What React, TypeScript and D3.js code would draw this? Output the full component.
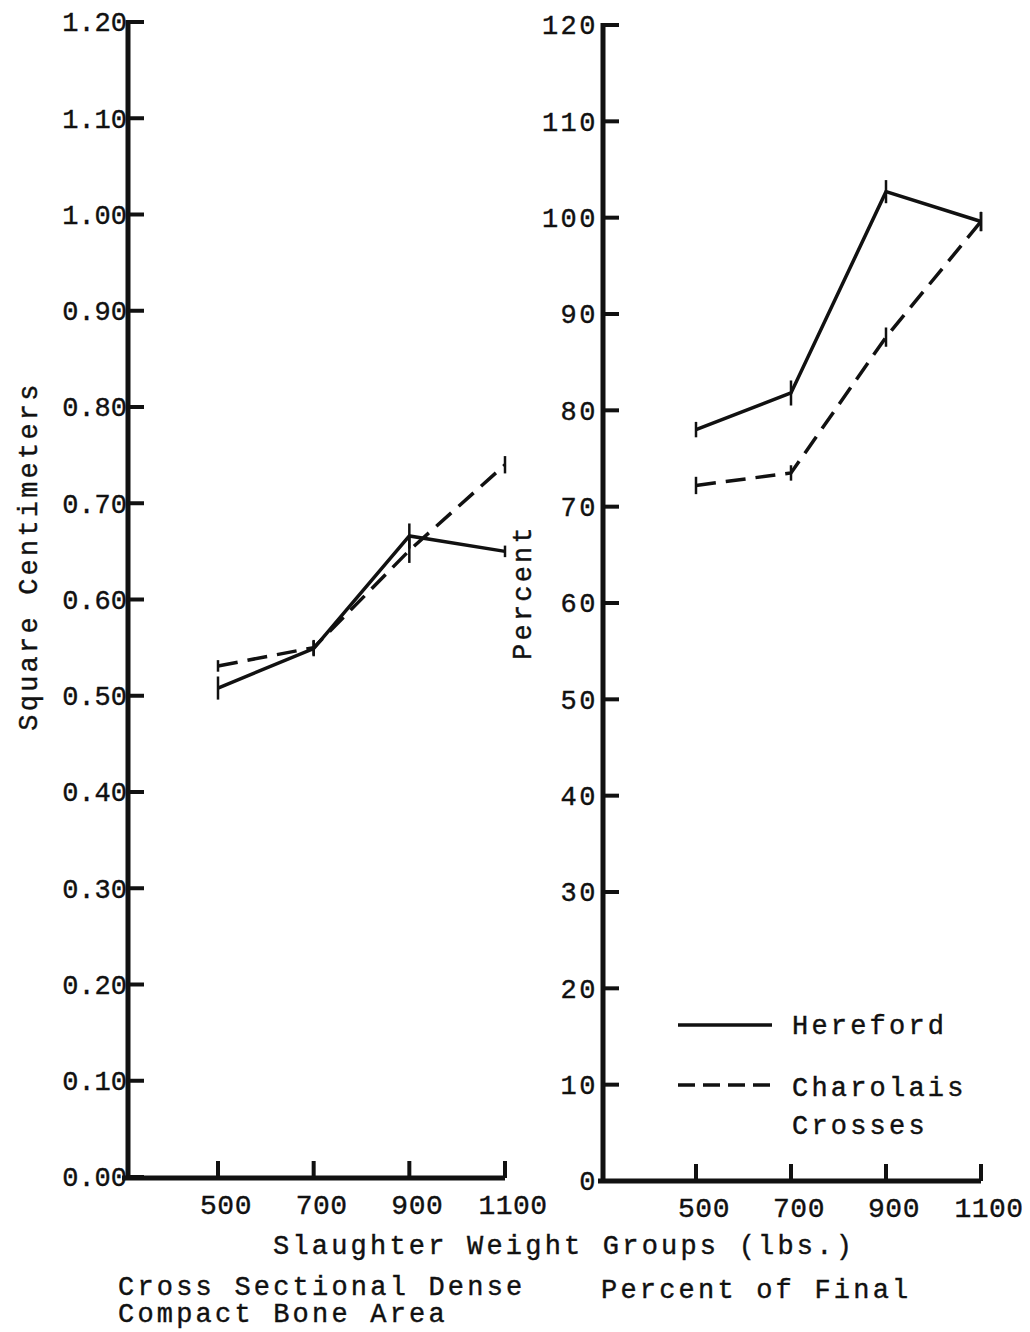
import React from 'react'
import * as d3 from 'd3'

// slaughter weight groups (lbs.)
const weights = [500, 700, 900, 1100]

// cross sectional dense compact bone area (sq cm)
const boneHereford = [0.508, 0.549, 0.666, 0.650]
const boneHerefordErr = [0.012, 0.008, 0.013, 0.006]
const boneCharolais = [0.531, 0.550, 0.651, 0.740]
const boneCharolaisErr = [0.006, 0.008, 0.013, 0.009]

// percent of final
const pctHereford = [78.0, 81.8, 102.7, 99.6]
const pctHerefordErr = [0.8, 1.3, 1.2, 1.0]
const pctCharolais = [72.2, 73.5, 87.6, 99.6]
const pctCharolaisErr = [0.9, 0.8, 1.0, 1.0]

const boneTicks = ['0.00', '0.10', '0.20', '0.30', '0.40', '0.50', '0.60', '0.70', '0.80', '0.90', '1.00', '1.10', '1.20']
const pctTicks = [0, 10, 20, 30, 40, 50, 60, 70, 80, 90, 100, 110, 120]

const FONT = '"Liberation Mono", "DejaVu Sans Mono", monospace'
const ink = '#111'

type PanelProps = {
  axisX: number
  axisY: number
  top: number
  xLeft: number
  x: d3.ScaleLinear<number, number>
  y: d3.ScaleLinear<number, number>
  ticks: { v: number; label: string }[]
  series: { values: number[]; err: number[]; dash?: string }[]
  labelSpacing: number
  labelGap: number
}

const Panel = ({ axisX, axisY, top, x, y, ticks, series, xLeft, labelSpacing, labelGap }: PanelProps) => {
  const line = d3.line<number>()
    .x((_, i) => x(weights[i]))
    .y(d => y(d))
  return (
    <g>
      {series.map((s, si) => (
        <g key={si}>
          <path d={line(s.values) || ''} fill="none" stroke={ink} strokeWidth={3.5}
            strokeDasharray={s.dash} />
          {s.values.map((v, i) => (
            <line key={i} x1={x(weights[i])} x2={x(weights[i])}
              y1={y(v - s.err[i])} y2={y(v + s.err[i])} stroke={ink} strokeWidth={2.5} />
          ))}
        </g>
      ))}
      {/* axes */}
      <line x1={axisX} x2={axisX} y1={top} y2={axisY + 2} stroke={ink} strokeWidth={5} />
      <line x1={xLeft} x2={x(1100)} y1={axisY} y2={axisY} stroke={ink} strokeWidth={5} />
      {ticks.map(t => (
        <g key={t.label}>
          <line x1={axisX} x2={axisX + 16} y1={y(t.v)} y2={y(t.v)} stroke={ink} strokeWidth={4} />
          <text x={axisX - labelGap} y={y(t.v)} dy="0.35em" textAnchor="end" fontSize={27}
            letterSpacing={labelSpacing} fontFamily={FONT} fill={ink}
            stroke={ink} strokeWidth={0.4}>{t.label}</text>
        </g>
      ))}
      {weights.map(w => (
        <g key={w}>
          <line x1={x(w)} x2={x(w)} y1={axisY} y2={axisY - 17} stroke={ink} strokeWidth={4} />
          <text x={x(w) + 8} y={axisY + 36} textAnchor="middle" fontSize={28}
            letterSpacing={0.5} fontFamily={FONT} fill={ink}
            stroke={ink} strokeWidth={0.4}>{w}</text>
        </g>
      ))}
    </g>
  )
}

const App = () => {
  const width = 1030
  const height = 1332

  const xBone = d3.scaleLinear().domain([500, 1100]).range([218, 505])
  const yBone = d3.scaleLinear().domain([0, 1.2]).range([1177, 22])
  const xPct = d3.scaleLinear().domain([500, 1100]).range([696, 981])
  const yPct = d3.scaleLinear().domain([0, 120]).range([1181, 25])

  const textProps = { fontFamily: FONT, fontSize: 27, letterSpacing: 3.2, fill: ink, stroke: ink, strokeWidth: 0.4 }

  return (
    <svg width={width} height={height} style={{ position: 'absolute', left: 0, top: 0, background: '#fff' }}>
      <rect width={width} height={height} fill="#fff" />
      <Panel axisX={128} axisY={1178} top={20} xLeft={122} x={xBone} y={yBone}
        labelSpacing={0} labelGap={1}
        ticks={boneTicks.map(t => ({ v: +t, label: t }))}
        series={[
          { values: boneHereford, err: boneHerefordErr },
          { values: boneCharolais, err: boneCharolaisErr, dash: '20 10' },
        ]} />
      <Panel axisX={603} axisY={1181} top={23} xLeft={598} x={xPct} y={yPct}
        labelSpacing={2.5} labelGap={5}
        ticks={pctTicks.map(t => ({ v: t, label: String(t) }))}
        series={[
          { values: pctHereford, err: pctHerefordErr },
          { values: pctCharolais, err: pctCharolaisErr, dash: '20 10' },
        ]} />

      <text transform="translate(37,556) rotate(-90)" textAnchor="middle" {...textProps}>
        Square Centimeters
      </text>
      <text transform="translate(531,592) rotate(-90)" textAnchor="middle" {...textProps}>
        Percent
      </text>

      {/* legend */}
      <line x1={678} x2={772} y1={1025} y2={1025} stroke={ink} strokeWidth={3.5} />
      <text x={792} y={1034} {...textProps}>Hereford</text>
      <line x1={678} x2={772} y1={1085} y2={1085} stroke={ink} strokeWidth={3.5} strokeDasharray="17 8" />
      <text x={792} y={1096} {...textProps}>Charolais</text>
      <text x={792} y={1134} {...textProps}>Crosses</text>

      <text x={273} y={1254} {...textProps}>Slaughter Weight Groups (lbs.)</text>
      <text x={118} y={1295} {...textProps}>Cross Sectional Dense</text>
      <text x={118} y={1322} {...textProps}>Compact Bone Area</text>
      <text x={601} y={1298} {...textProps}>Percent of Final</text>
    </svg>
  )
}

export default App
